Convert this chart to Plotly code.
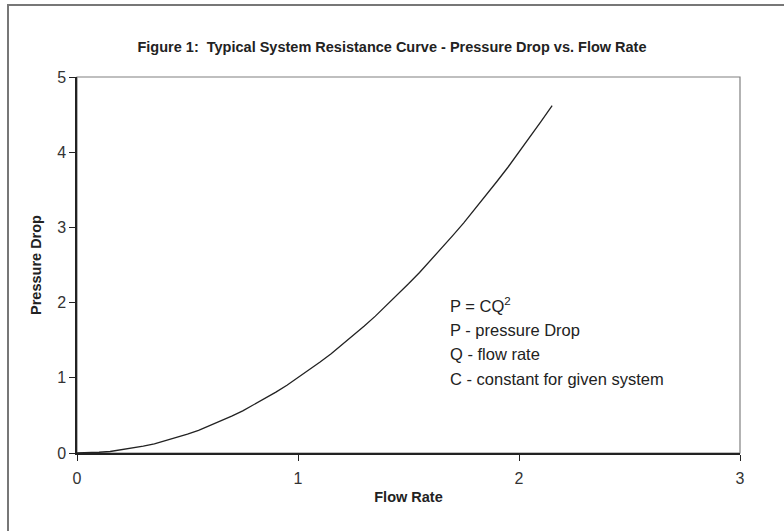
import plotly.graph_objects as go

flow_rate = [0.0, 0.05, 0.1, 0.15, 0.2, 0.25, 0.3, 0.35, 0.4, 0.45, 0.5, 0.55, 0.6, 0.65,
             0.7, 0.75, 0.8, 0.85, 0.9, 0.95, 1.0, 1.05, 1.1, 1.15, 1.2, 1.25, 1.3, 1.35,
             1.4, 1.45, 1.5, 1.55, 1.6, 1.65, 1.7, 1.75, 1.8, 1.85, 1.9, 1.95, 2.0, 2.05,
             2.1, 2.15]
pressure_drop = [0.0, 0.0, 0.01, 0.02, 0.04, 0.06, 0.09, 0.12, 0.16, 0.2, 0.25, 0.3, 0.36, 0.42,
                 0.49, 0.56, 0.64, 0.72, 0.81, 0.9, 1.0, 1.1, 1.21, 1.32, 1.44, 1.56, 1.69, 1.82,
                 1.96, 2.1, 2.25, 2.4, 2.56, 2.72, 2.89, 3.06, 3.24, 3.42, 3.61, 3.8, 4.0, 4.2,
                 4.41, 4.62]
x_ticks = [0, 1, 2, 3]
y_ticks = [0, 1, 2, 3, 4, 5]
note_lines = ["P = CQ<sup>2</sup>", "P - pressure Drop", "Q - flow rate",
              "C - constant for given system"]

FONT = "Liberation Sans, Arial, sans-serif"
W, H = 784, 531
L, R, T, B = 77, 44, 77, 78
PW, PH = W - L - R, H - T - B

fig = go.Figure()
fig.add_trace(go.Scatter(x=flow_rate, y=pressure_drop, mode="lines",
                         line=dict(color="#222222", width=1.3), hoverinfo="skip",
                         showlegend=False))

annotations = []
for i, line in enumerate(note_lines):
    yc = 305 + i * 24.5
    annotations.append(dict(xref="paper", yref="paper", x=(448 - L) / PW, y=(H - B - yc) / PH,
                            xanchor="left", yanchor="middle", align="left", showarrow=False,
                            text=line, font=dict(size=16.5, family=FONT, color="#222222")))

fig.update_layout(
    width=W, height=H,
    margin=dict(l=L, r=R, t=T, b=B),
    paper_bgcolor="white", plot_bgcolor="white",
    font=dict(family=FONT, color="#222222"),
    title=dict(text="<b>Figure 1:\u00a0 Typical System Resistance Curve - Pressure Drop vs. Flow Rate</b>",
               x=(392 - L) / PW, xref="paper", xanchor="center", y=1 - 47 / H, yanchor="middle",
               font=dict(size=14.5, family=FONT, color="#222222")),
    xaxis=dict(range=[0, 3], tickvals=x_ticks, showgrid=False, zeroline=False,
               showline=True, linecolor="#222222", linewidth=1.5,
               ticks="outside", ticklen=6, tickcolor="#222222", tickwidth=1,
               ticklabelstandoff=4,
               tickfont=dict(size=16, family=FONT, color="#333333"),
               title=dict(text="<b>Flow Rate</b>", font=dict(size=14.5, family=FONT, color="#222222"),
                          standoff=6)),
    yaxis=dict(range=[0, 5], tickvals=y_ticks, showgrid=False, zeroline=False,
               showline=True, linecolor="#222222", linewidth=1.5,
               ticks="outside", ticklen=6, tickcolor="#222222", tickwidth=1,
               tickfont=dict(size=16, family=FONT, color="#333333"),
               title=dict(text="<b>Pressure Drop</b>", font=dict(size=14.5, family=FONT, color="#222222"),
                          standoff=12)),
    shapes=[
        dict(type="rect", xref="paper", yref="paper", x0=0, x1=1, y0=0, y1=1,
             line=dict(color="#808080", width=1.2), layer="below"),
        dict(type="rect", xref="paper", yref="paper",
             x0=(8 - L) / PW, x1=1.2, y0=-0.3, y1=(H - B - 5) / PH,
             line=dict(color="#777777", width=2), layer="below"),
    ],
    annotations=annotations,
)

fig.write_html("out.html", config={"displayModeBar": False},
               post_script="document.body.style.margin='0';")
